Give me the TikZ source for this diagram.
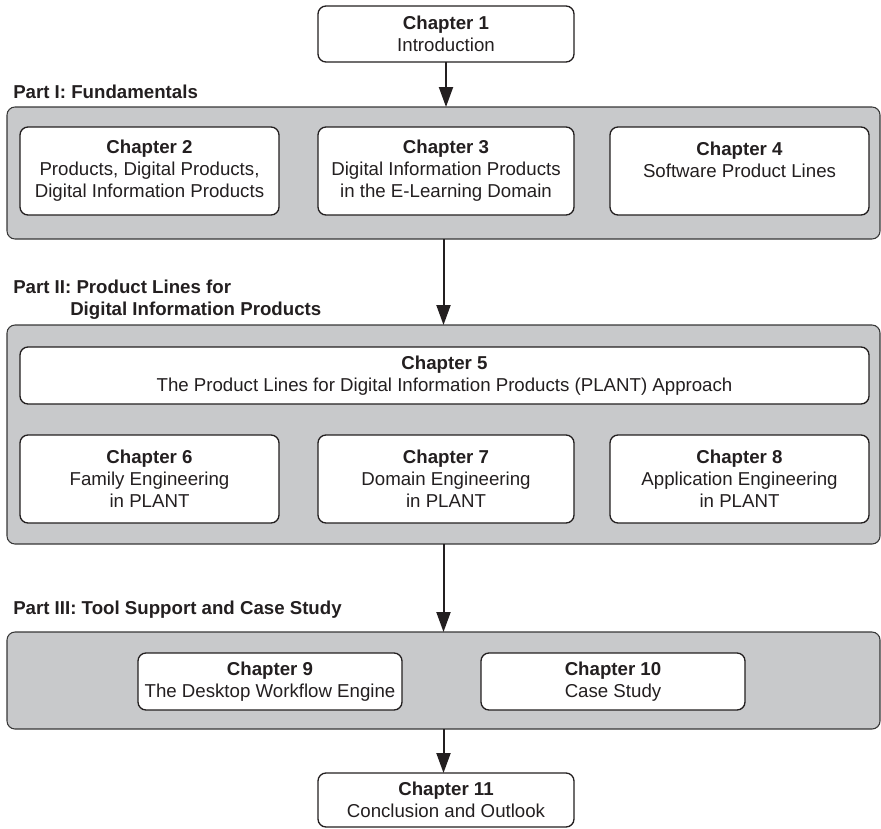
\documentclass[tikz,border=0pt]{standalone}
\usepackage{fontspec}
\setmainfont{Liberation Sans}
\usetikzlibrary{arrows.meta}

\definecolor{ink}{RGB}{35,31,32}
\definecolor{panelgray}{RGB}{200,201,203}
\definecolor{paneledge}{RGB}{55,55,55}

\tikzset{
  chap/.style={draw=ink, line width=1pt, fill=white, rounded corners=6pt,
    align=center, inner sep=0pt, outer sep=0pt, text=ink,
    font=\fontsize{14}{16.5}\selectfont},
  panel/.style={draw=paneledge, line width=0.8pt, fill=panelgray,
    rounded corners=6pt, inner sep=0pt, outer sep=0pt},
  partlabel/.style={font=\fontsize{14}{16.5}\selectfont\bfseries, text=ink,
    inner sep=0pt, align=left},
  flow/.style={draw=ink, line width=1.5pt,
    -{Triangle[width=10.5pt,length=15pt]}},
}

% box given by its corners (x1,y1,x2,y2) in picture units
\newcommand{\mkchap}[6]{%
  \node[chap, minimum width={(#4-#2)*0.75pt}, minimum height={(#5-#3)*0.75pt}]
    (#1) at ({(#2+#4)/2},{(#3+#5)/2}) {#6};}
\newcommand{\mkpanel}[5]{%
  \node[panel, minimum width={(#4-#2)*0.75pt}, minimum height={(#5-#3)*0.75pt}]
    (#1) at ({(#2+#4)/2},{(#3+#5)/2}) {};}

\begin{document}
\begin{tikzpicture}[x=0.75pt, y=-0.75pt]
  \useasboundingbox (0,0) rectangle (881,828);

  % part panels
  \mkpanel{panel1}{7}{107}{880}{239}
  \mkpanel{panel2}{7}{325}{880}{544}
  \mkpanel{panel3}{7}{632}{880}{729}

  % part headings
  \node[partlabel, anchor=base west] (part1) at (13,98) {Part I: Fundamentals};
  \node[partlabel, anchor=north west] (part2) at (13,279.5)
    {Part II: Product Lines for\\\hspace*{42.75pt}Digital Information Products};
  \node[partlabel, anchor=base west] (part3) at (13,614) {Part III: Tool Support and Case Study};

  % chapters
  \mkchap{ch1}{318}{6}{574}{62}{\textbf{Chapter 1}\\Introduction}
  \mkchap{ch2}{20}{127}{279}{215}{\textbf{Chapter 2}\\Products, Digital Products,\\Digital Information Products}
  \mkchap{ch3}{318}{127}{574}{215}{\textbf{Chapter 3}\\Digital Information Products\\in the E-Learning Domain}
  \mkchap{ch4}{610}{127}{869}{215}{\textbf{Chapter 4}\\Software Product Lines\\~}
  \mkchap{ch5}{20}{347}{869}{404}{\textbf{Chapter 5}\\The Product Lines for Digital Information Products (PLANT) Approach}
  \mkchap{ch6}{20}{435}{279}{523}{\textbf{Chapter 6}\\Family Engineering\\in PLANT}
  \mkchap{ch7}{318}{435}{574}{523}{\textbf{Chapter 7}\\Domain Engineering\\in PLANT}
  \mkchap{ch8}{610}{435}{869}{523}{\textbf{Chapter 8}\\Application Engineering\\in PLANT}
  \mkchap{ch9}{138}{653}{402}{710}{\textbf{Chapter 9}\\The Desktop Workflow Engine}
  \mkchap{ch10}{481}{653}{745}{710}{\textbf{Chapter 10}\\Case Study}
  \mkchap{ch11}{318}{773}{574}{827}{\textbf{Chapter 11}\\Conclusion and Outlook}

  % reading order
  \draw[flow] (ch1.south) -- (ch1.south |- panel1.north);
  \draw[flow] (panel1.south) -- (panel2.north);
  \draw[flow] (panel2.south) -- (panel3.north);
  \draw[flow] (panel3.south) -- (panel3.south |- ch11.north);
\end{tikzpicture}
\end{document}
